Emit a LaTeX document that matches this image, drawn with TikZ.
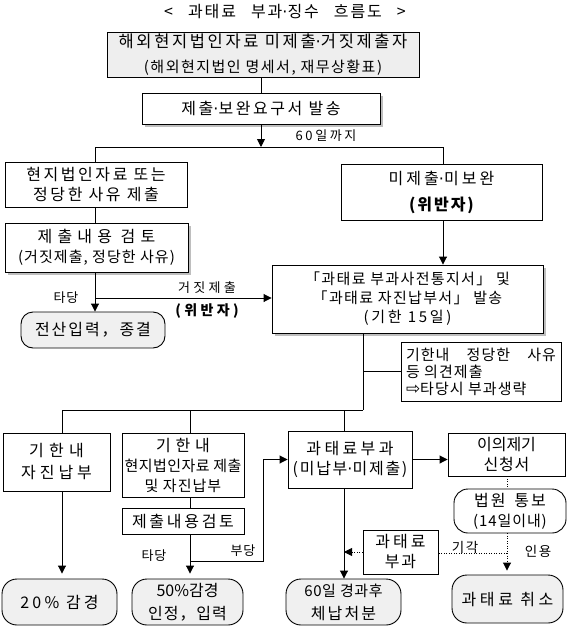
\documentclass[tikz,border=0pt]{standalone}
\usepackage{fontspec}
\setmainfont{Noto Sans CJK KR}
\newfontfamily\dejavu{DejaVu Sans}
\usetikzlibrary{arrows.meta,shadows}
\definecolor{boxgray}{RGB}{238,238,238}
\definecolor{rgray}{RGB}{240,240,240}
\definecolor{shgray}{RGB}{190,190,190}
\newcommand\tx[3]{{\fontsize{#1}{#1}\selectfont\addfontfeature{LetterSpace=#2}#3}}
\newcommand\md{{\dejavu ·}}
\tikzset{
  box/.style={draw, fill=white, inner sep=0pt, align=center, line width=0.9pt, font=\fontsize{16}{20}\selectfont},
  rbox/.style={box, rounded corners=14pt, fill=rgray},
  shad/.style={drop shadow={shadow xshift=3pt, shadow yshift=-3pt, fill=shgray, opacity=1}},
  lbl/.style={inner sep=0pt},
  conn/.style={line width=0.9pt},
  arr/.style={conn, -{Triangle[length=8pt,width=8pt]}},
  dotl/.style={line width=0.9pt, dash pattern=on 1pt off 1.5pt},
}
\begin{document}
\begin{tikzpicture}[x=1pt,y=-1pt]
\useasboundingbox (0,0) rectangle (569,626);
% title
\node[lbl] (title) at (285,12) {\tx{16}{12}{<\hspace{15pt}과태료\hspace{15pt}부과\md 징수\hspace{15pt}흐름도\hspace{15pt}>}};
% top
\node[box, fill=boxgray, minimum width=312, minimum height=45] (top) at (263,54.5)
  {\tx{16.5}{16}{해외현지법인자료 미제출\md 거짓제출자}\\[5pt]\tx{15}{10}{(해외현지법인 명세서, 재무상황표)}};
\node[box, shad, minimum width=238, minimum height=31] (req) at (261,108.5) {\tx{16}{16}{제출\md 보완요구서 발송}};
\node[lbl] (d60) at (326,136) {\tx{13}{20}{60일까지}};
\coordinate (jL) at (95,147);
\coordinate (jR) at (443,147);
% left column
\node[box, minimum width=182, minimum height=45] (box1) at (96,184.5) {\tx{16}{16}{현지법인자료 또는}\\\tx{16}{16}{정당한 사유 제출}};
\node[box, shad, minimum width=183, minimum height=49] (box2) at (96.5,247.5)
  {\tx{16}{32}{제출내용 검토}\\\tx{15}{7}{(거짓제출, 정당한 사유)}};
\node[rbox, minimum width=144, minimum height=36, rounded corners=12pt] (done) at (93,330) {\tx{16}{12}{전산입력，종결}};
\node[lbl] (tadang1) at (66,298) {\tx{13}{5}{타당}};
\node[lbl] (false) at (207,288) {\tx{13}{25}{거짓제출}};
\node[lbl] (viol1) at (207,311) {\tx{14}{24}{\bfseries (위반자)}};
\coordinate (c1) at (95,298);
% right column
\node[box, minimum width=201, minimum height=56] (right) at (441.5,192) {\tx{16}{19}{미제출\md 미보완}\\[6pt]\tx{16}{12}{\bfseries (위반자)}};
\node[box, shad, minimum width=271, minimum height=68, font=\fontsize{15}{19}\selectfont] (center) at (407.5,299)
  {\tx{15}{9}{「과태료 부과사전통지서」 및}\\\tx{15}{9}{「과태료 자진납부서」 발송}\\\tx{15}{18}{(기한 15일)}};
\node[box, minimum width=160, minimum height=59, align=left, font=\fontsize{15}{17}\selectfont] (note) at (481,371.5)
  {\tx{15}{7}{\makebox[150pt][s]{기한내 정당한 사유}}\\\tx{15}{7}{등 의견제출}\\\tx{15}{7}{{\dejavu\fontsize{17}{17}\selectfont ⇨}타당시 부과생략}};
\coordinate (c2) at (363,410);
\coordinate (c3) at (62,410);
\coordinate (c4) at (190,410);
\coordinate (c5) at (344,410);
% bottom rows
\node[box, minimum width=107, minimum height=58, font=\fontsize{16}{22}\selectfont] (boxA) at (56.5,462) {\tx{16}{33}{기한내}\\\tx{16}{25}{자진납부}};
\node[box, minimum width=122, minimum height=64] (boxB) at (183,465) {\tx{16}{30}{기한내}\\\tx{15}{3}{현지법인자료 제출}\\\tx{15}{7}{및 자진납부}};
\node[box, minimum width=122, minimum height=26] (review) at (183,521) {\tx{16}{17}{제출내용검토}};
\node[lbl] (tadang2) at (154,556) {\tx{13}{5}{타당}};
\node[lbl] (budang) at (243,551) {\tx{13}{5}{부당}};
\coordinate (c6) at (190,561);
\coordinate (c7) at (263,561);
\node[box, minimum width=124, minimum height=57] (fine) at (350,459.5) {\tx{16}{21}{과태료부과}\\\tx{16}{11}{(미납부\md 미제출)}};
\node[box, minimum width=117, minimum height=43] (obj) at (506.5,454.5) {\tx{16}{0}{이의제기}\\\tx{16}{5}{신청서}};
\node[rbox, minimum width=112, minimum height=44, fill=white] (court) at (510,511)
  {\tx{16}{12}{법원\hspace{9pt}통보}\\\tx{15}{6}{(14일이내)}};
\node[box, minimum width=75, minimum height=44] (smallfine) at (400.5,552) {\tx{16}{19}{과태료}\\\tx{16}{12}{부과}};
\node[lbl] (reject) at (465,547) {\tx{13.5}{12}{기각}};
\node[lbl] (accept) at (538,551) {\tx{13.5}{12}{인용}};
\coordinate (c8) at (507,553);
\node[rbox, minimum width=115, minimum height=46, rounded corners=15pt] (r20) at (59.5,602) {\tx{16}{20}{20\% 감경}};
\node[rbox, minimum width=111, minimum height=46, rounded corners=15pt, font=\fontsize{16}{23}\selectfont] (r50) at (187.5,602) {\tx{16}{0}{50\%감경}\\\tx{16}{6}{인정，입력}};
\node[rbox, minimum width=115, minimum height=46, rounded corners=15pt, font=\fontsize{16}{23}\selectfont] (r60) at (343.5,602) {\tx{15}{4}{60일 경과후}\\\tx{16}{13}{체납처분}};
\node[rbox, minimum width=111, minimum height=48, rounded corners=15pt] (cancel) at (507.5,599) {\tx{16}{23}{과태료 취소}};
% connectors
\draw[conn] (req.north) -- (req.north |- top.south);
\draw[arr] (req.south) -- (req.south |- jL);
\draw[conn] (jL) -- (jR);
\draw[conn] (jL) -- (jL |- box1.north);
\draw[conn] (jR) -- (jR |- right.north);
\draw[conn] (box1.south -| jL) -- (box2.north -| jL);
\draw[arr] (box2.south -| jL) -- (done.north -| jL);
\draw[arr] (c1) -- (c1 -| center.west);
\draw[arr] (right.south -| jR) -- (center.north -| jR);
\draw[conn] (center.south -| c2) -- (c2);
\draw[conn] (c2 |- note.west) -- (note.west);
\draw[conn] (c3) -- (c2);
\draw[conn] (c3) -- (c3 |- boxA.north);
\draw[conn] (c4) -- (c4 |- boxB.north);
\draw[conn] (c5) -- (c5 |- fine.north);
\draw[arr, shorten >=5pt] (boxA.south -| c3) -- (r20.north -| c3);
\draw[conn] (boxB.south -| c4) -- (review.north -| c4);
\draw[arr, shorten >=5pt] (review.south -| c4) -- (r50.north -| c4);
\draw[arr] (c6) -- (c7) -- (c7 |- fine.west) -- (fine.west);
\draw[arr] (fine.east) -- (fine.east -| obj.west);
\draw[dotl] (obj.south -| c8) -- (court.north -| c8);
\draw[dotl, -{Triangle[length=8pt,width=8pt]}, shorten >=4pt] (court.south -| c8) -- (cancel.north -| c8);
\draw[dotl] (c8) -- (c8 -| smallfine.east);
\draw[dotl, -{Triangle[length=8pt,width=8pt]}] (smallfine.west) -- (smallfine.west -| c5);
\draw[arr] (fine.south -| c5) -- (r60.north -| c5);
\end{tikzpicture}
\end{document}
